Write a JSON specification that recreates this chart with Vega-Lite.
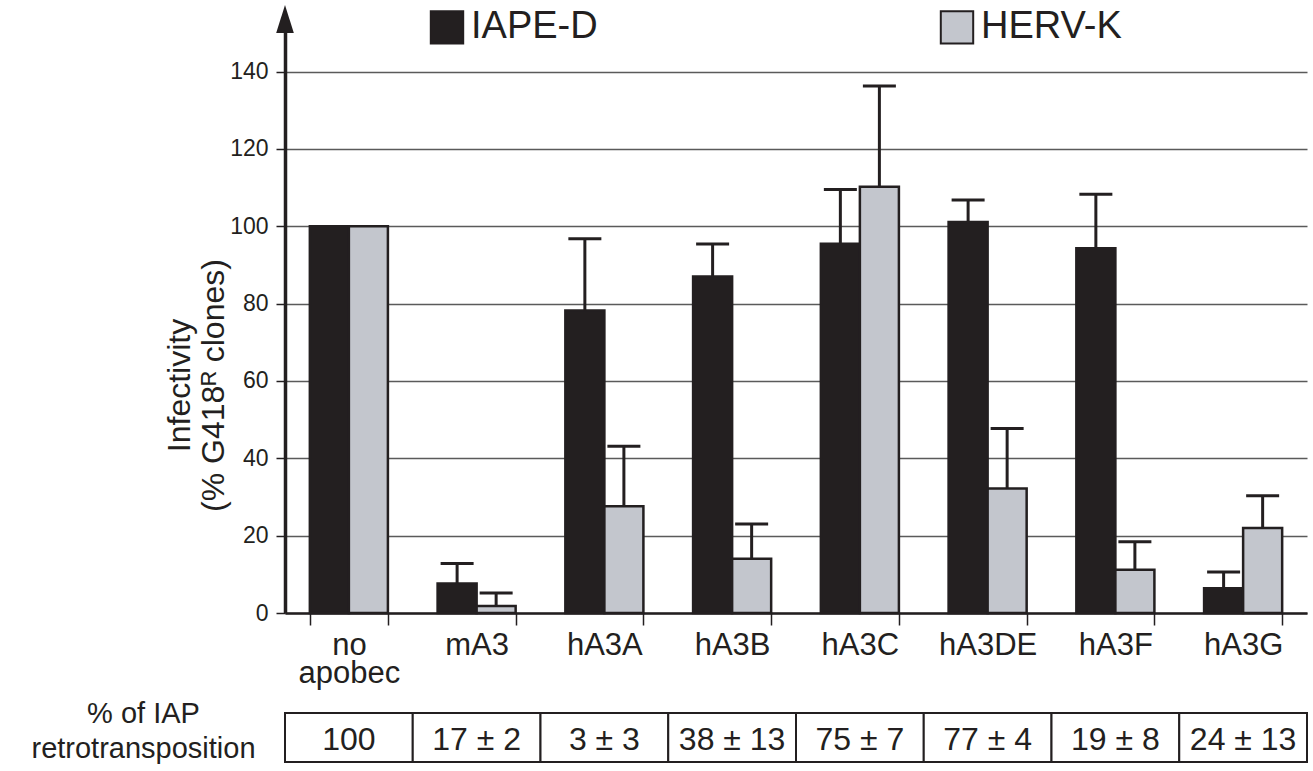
{
  "$schema": "https://vega.github.io/schema/vega-lite/v6.json",
  "padding": {"left": 30, "top": 5, "right": 5, "bottom": 5},
  "config": {
    "font": "Liberation Sans",
    "view": {"stroke": null},
    "text": {"font": "Liberation Sans"}
  },
  "datasets": {
    "bars": [
      {"group": "no apobec", "series": "IAPE-D", "value": 100, "upper": null},
      {"group": "no apobec", "series": "HERV-K", "value": 100, "upper": null},
      {"group": "mA3", "series": "IAPE-D", "value": 7.6, "upper": 12.8},
      {"group": "mA3", "series": "HERV-K", "value": 1.8, "upper": 5.2},
      {"group": "hA3A", "series": "IAPE-D", "value": 78.2, "upper": 96.8},
      {"group": "hA3A", "series": "HERV-K", "value": 27.6, "upper": 43.1},
      {"group": "hA3B", "series": "IAPE-D", "value": 87.0, "upper": 95.4},
      {"group": "hA3B", "series": "HERV-K", "value": 14.0, "upper": 23.0},
      {"group": "hA3C", "series": "IAPE-D", "value": 95.5, "upper": 109.5},
      {"group": "hA3C", "series": "HERV-K", "value": 110.2, "upper": 136.3},
      {"group": "hA3DE", "series": "IAPE-D", "value": 101.1, "upper": 106.8},
      {"group": "hA3DE", "series": "HERV-K", "value": 32.2, "upper": 47.7},
      {"group": "hA3F", "series": "IAPE-D", "value": 94.3, "upper": 108.3},
      {"group": "hA3F", "series": "HERV-K", "value": 11.2, "upper": 18.4},
      {"group": "hA3G", "series": "IAPE-D", "value": 6.4, "upper": 10.6},
      {"group": "hA3G", "series": "HERV-K", "value": 22.0, "upper": 30.3}
    ],
    "table": [
      {"group": "no apobec", "label": "% of IAP retrotransposition", "iap": "100"},
      {"group": "mA3", "label": "% of IAP retrotransposition", "iap": "17 ± 2"},
      {"group": "hA3A", "label": "% of IAP retrotransposition", "iap": "3 ± 3"},
      {"group": "hA3B", "label": "% of IAP retrotransposition", "iap": "38 ± 13"},
      {"group": "hA3C", "label": "% of IAP retrotransposition", "iap": "75 ± 7"},
      {"group": "hA3DE", "label": "% of IAP retrotransposition", "iap": "77 ± 4"},
      {"group": "hA3F", "label": "% of IAP retrotransposition", "iap": "19 ± 8"},
      {"group": "hA3G", "label": "% of IAP retrotransposition", "iap": "24 ± 13"}
    ]
  },
  "resolve": {"scale": {"x": "independent"}},
  "spacing": 11,
  "vconcat": [
    {
      "width": 1022,
      "height": 594,
      "resolve": {"scale": {"x": "independent"}},
      "layer": [
        {
          "data": {"name": "bars"},
          "layer": [
            {
              "mark": {"type": "bar", "stroke": "#231f20", "strokeWidth": 2.5},
              "encoding": {
                "x": {
                  "field": "group", "type": "nominal",
                  "scale": {"domain": ["no apobec", "mA3", "hA3A", "hA3B", "hA3C", "hA3DE", "hA3F", "hA3G"], "paddingInner": 0.389, "paddingOuter": 0.1945},
                  "axis": {
                    "title": null, "tickBand": "extent", "tickSize": 12, "tickWidth": 1.5, "tickColor": "#231f20",
                    "domainColor": "#231f20", "domainWidth": 2.5, "labelFontSize": 31, "labelColor": "#231f20",
                    "labelPadding": 5, "labelLineHeight": 28, "labelAngle": 0, "labelOverlap": false, "grid": false,
                    "labelExpr": "datum.value == 'no apobec' ? ['no', 'apobec'] : datum.value"
                  }
                },
                "xOffset": {"field": "series", "type": "nominal", "scale": {"domain": ["IAPE-D", "HERV-K"], "paddingInner": 0, "paddingOuter": 0}},
                "y": {
                  "field": "value", "type": "quantitative",
                  "scale": {"domain": [0, 153.6], "nice": false},
                  "axis": {
                    "title": ["Infectivity", "(% G418ᴿ clones)"], "titleFontSize": 32, "titleFontWeight": "normal", "titleColor": "#231f20",
                    "titleX": -96, "titleY": 366, "titleAngle": 270, "titleAlign": "center", "titleBaseline": "alphabetic", "titleLineHeight": 34,
                    "values": [0, 20, 40, 60, 80, 100, 120, 140], "labelFontSize": 23, "labelColor": "#231f20",
                    "tickSize": 9, "tickWidth": 1.5, "tickColor": "#231f20", "labelPadding": 8,
                    "domainColor": "#231f20", "domainWidth": 3.5,
                    "grid": true, "gridColor": "#5a5a5a", "gridWidth": 1.3
                  }
                },
                "color": {
                  "field": "series", "type": "nominal",
                  "scale": {"domain": ["IAPE-D", "HERV-K"], "range": ["#231f20", "#c3c6cd"]},
                  "legend": {
                    "orient": "none", "legendX": 143, "legendY": -11, "direction": "horizontal", "title": null,
                    "symbolType": "square", "symbolSize": 1050, "labelFontSize": 38, "labelOffset": 5, "labelColor": "#231f20",
                    "columnPadding": 338, "symbolStrokeColor": "#231f20", "symbolStrokeWidth": 2, "padding": 0, "symbolOpacity": 1, "labelLimit": 0
                  }
                }
              }
            },
            {
              "transform": [{"filter": "isValid(datum.upper)"}],
              "mark": {"type": "rule", "stroke": "#231f20", "strokeWidth": 3},
              "encoding": {
                "x": {"field": "group", "type": "nominal"},
                "xOffset": {"field": "series", "type": "nominal"},
                "y": {"field": "value", "type": "quantitative"},
                "y2": {"field": "upper"}
              }
            },
            {
              "transform": [{"filter": "isValid(datum.upper)"}],
              "mark": {"type": "tick", "color": "#231f20", "thickness": 3, "size": 33, "opacity": 1},
              "encoding": {
                "x": {"field": "group", "type": "nominal"},
                "xOffset": {"field": "series", "type": "nominal"},
                "y": {"field": "upper", "type": "quantitative"}
              }
            }
          ]
        },
        {
          "data": {"values": [{}]},
          "mark": {"type": "point", "shape": "M0,-1L0.63,1L-0.63,1Z", "size": 784, "filled": true, "color": "#231f20", "opacity": 1},
          "encoding": {
            "x": {"datum": 0, "type": "quantitative", "scale": {"domain": [0, 1]}, "axis": null},
            "y": {"datum": 153.6, "type": "quantitative"}
          }
        }
      ]
    },
    {
      "width": 1022,
      "height": 49,
      "data": {"name": "table"},
      "layer": [
        {
          "mark": {"type": "rect", "fill": "white", "stroke": "#231f20", "strokeWidth": 2},
          "encoding": {
            "x": {"field": "group", "type": "nominal", "scale": {"domain": ["no apobec", "mA3", "hA3A", "hA3B", "hA3C", "hA3DE", "hA3F", "hA3G"], "paddingInner": 0, "paddingOuter": 0}, "axis": null},
            "y": {
              "field": "label", "type": "nominal", "scale": {"paddingInner": 0, "paddingOuter": 0},
              "axis": {
                "title": null, "domain": false, "ticks": false, "tickSize": 0,
                "labelExpr": "['% of IAP', 'retrotransposition']", "labelAlign": "center", "labelBaseline": "middle",
                "labelPadding": 142, "labelFontSize": 29, "labelLineHeight": 35, "labelColor": "#231f20", "labelLimit": 0, "labelOffset": -24
              }
            }
          }
        },
        {
          "mark": {"type": "text", "fontSize": 32, "color": "#231f20", "dy": 2},
          "encoding": {
            "x": {"field": "group", "type": "nominal"},
            "y": {"field": "label", "type": "nominal"},
            "text": {"field": "iap"}
          }
        }
      ]
    }
  ]
}
